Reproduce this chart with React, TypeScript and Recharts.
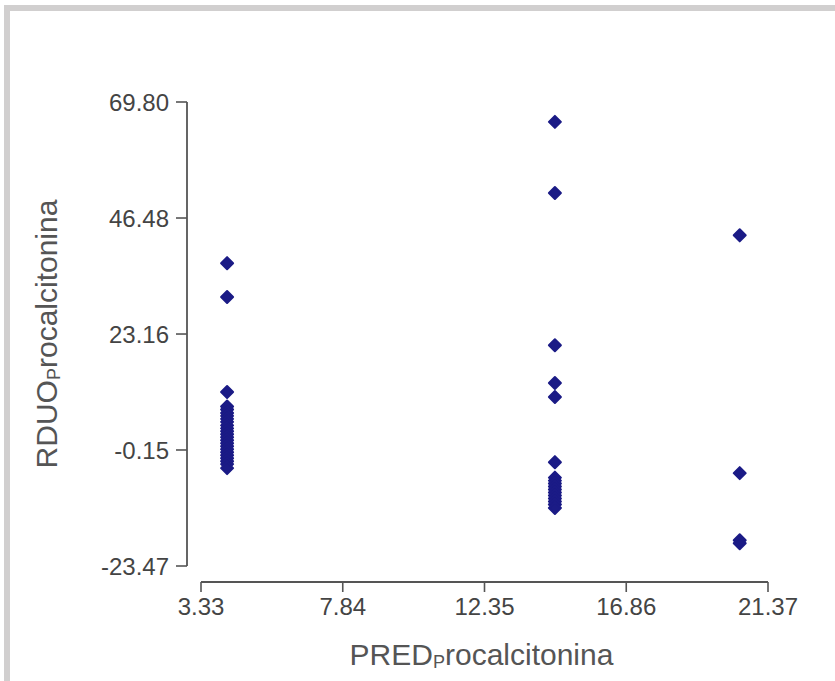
import { ScatterChart, Scatter, XAxis, YAxis, ReferenceLine, Label } from 'recharts';

// PRED procalcitonina groups (x) and RDUO values (y) per group
const groupX = [4.16, 14.59, 20.47];
const group1Y = [37.4, 30.6, 11.5, 8.6, 8.0, 7.3, 6.7, 6.1, 5.5, 4.8, 4.2, 3.6, 3.0, 2.4, 1.8, 1.2, 0.6, 0.0, -0.6, -1.2, -1.8, -2.4, -3.0, -3.8];
const group2Y = [65.8, 51.5, 20.9, 13.3, 10.5, -2.6, -5.7, -6.3, -6.9, -7.5, -8.1, -8.7, -9.3, -9.9, -10.5, -11.1, -11.8];
const group3Y = [43.0, -4.8, -18.3, -18.9];

const xTicks = [3.33, 7.84, 12.35, 16.86, 21.37];
const yTicks = [-23.47, -0.15, 23.16, 46.48, 69.8];

const points = [group1Y, group2Y, group3Y].flatMap((ys, i) => ys.map((y) => ({ x: groupX[i], y })));

const X_MIN = 3.33;
const X_MAX = 21.37;
const Y_MIN = -23.47;
const Y_MAX = 69.8;

const W = 835;
const H = 681;
const MARGIN = { top: 102, right: 67, bottom: 0, left: 0 };
const X_AXIS_H = 99;
const Y_AXIS_W = 187;
const PAD_X = 14;
const PAD_Y = 16;

// axis lines sit slightly outside the data range (offset axes)
const plotW = W - MARGIN.right - Y_AXIS_W - PAD_X;
const plotH = H - MARGIN.top - X_AXIS_H - PAD_Y;
const xAxisLineAt = X_MIN - ((X_MAX - X_MIN) * PAD_X) / plotW;
const yAxisLineAt = Y_MIN - ((Y_MAX - Y_MIN) * PAD_Y) / plotH;

const navy = '#1b1b86';
const axisColor = '#555555';
const font = '"Liberation Sans", Arial, sans-serif';

const Diamond = (props: any) => {
  const { cx, cy } = props;
  const r = 6;
  return (
    <path
      d={`M${cx},${cy - r}L${cx + r},${cy}L${cx},${cy + r}L${cx - r},${cy}Z`}
      fill={navy}
      stroke={navy}
      strokeWidth={2}
      strokeLinejoin="round"
    />
  );
};

const XLabel = (props: any) => {
  const { viewBox } = props;
  const cx = viewBox.x + viewBox.width / 2 + 4;
  return (
    <text x={cx} y={viewBox.y + 83} textAnchor="middle" fill={axisColor} fontSize={30} fontFamily={font}>
      PRED
      <tspan fontSize={18} dy={3}>P</tspan>
      <tspan dy={-3}>rocalcitonina</tspan>
    </text>
  );
};

const YLabel = (props: any) => {
  const { viewBox } = props;
  const cy = viewBox.y + viewBox.height / 2 - 8;
  const x = 57;
  return (
    <text
      x={x}
      y={cy}
      transform={`rotate(-90, ${x}, ${cy})`}
      textAnchor="middle"
      fill={axisColor}
      fontSize={30}
      fontFamily={font}
    >
      RDUO
      <tspan fontSize={18} dy={3}>P</tspan>
      <tspan dy={-3}>rocalcitonina</tspan>
    </text>
  );
};

export default function App() {
  return (
    <div style={{ position: 'absolute', left: 0, top: 0, width: W, height: H, background: '#fff' }}>
      <div
        style={{
          position: 'absolute',
          left: 4,
          top: 5,
          right: 0,
          bottom: 0,
          borderTop: '6px solid #d1cfcf',
          borderLeft: '6px solid #d1cfcf',
        }}
      />
      <ScatterChart width={W} height={H} margin={MARGIN} style={{ position: 'absolute', left: 0, top: 0 }}>
        <XAxis
          type="number"
          dataKey="x"
          domain={[X_MIN, X_MAX]}
          ticks={xTicks}
          tickFormatter={(v: number) => v.toFixed(2)}
          padding={{ left: PAD_X, right: 0 }}
          axisLine={false}
          tickLine={{ stroke: axisColor, strokeWidth: 1.6 }}
          tickSize={10}
          tickMargin={6}
          tick={{ fill: '#444', fontSize: 24, fontFamily: font }}
          height={X_AXIS_H}
          interval={0}
        >
          <Label content={XLabel} />
        </XAxis>
        <YAxis
          type="number"
          dataKey="y"
          domain={[Y_MIN, Y_MAX]}
          ticks={yTicks}
          tickFormatter={(v: number) => v.toFixed(2)}
          padding={{ top: 0, bottom: PAD_Y }}
          axisLine={false}
          tickLine={{ stroke: axisColor, strokeWidth: 1.6 }}
          tickSize={11}
          tickMargin={7}
          tick={{ fill: '#444', fontSize: 24, fontFamily: font }}
          width={Y_AXIS_W}
          interval={0}
        >
          <Label content={YLabel} />
        </YAxis>
        <ReferenceLine
          segment={[{ x: X_MIN, y: yAxisLineAt }, { x: X_MAX, y: yAxisLineAt }]}
          stroke={axisColor}
          strokeWidth={1.8}
          ifOverflow="visible"
        />
        <ReferenceLine
          segment={[{ x: xAxisLineAt, y: Y_MIN }, { x: xAxisLineAt, y: Y_MAX }]}
          stroke={axisColor}
          strokeWidth={1.8}
          ifOverflow="visible"
        />
        <Scatter data={points} shape={Diamond} isAnimationActive={false} />
      </ScatterChart>
    </div>
  );
}
